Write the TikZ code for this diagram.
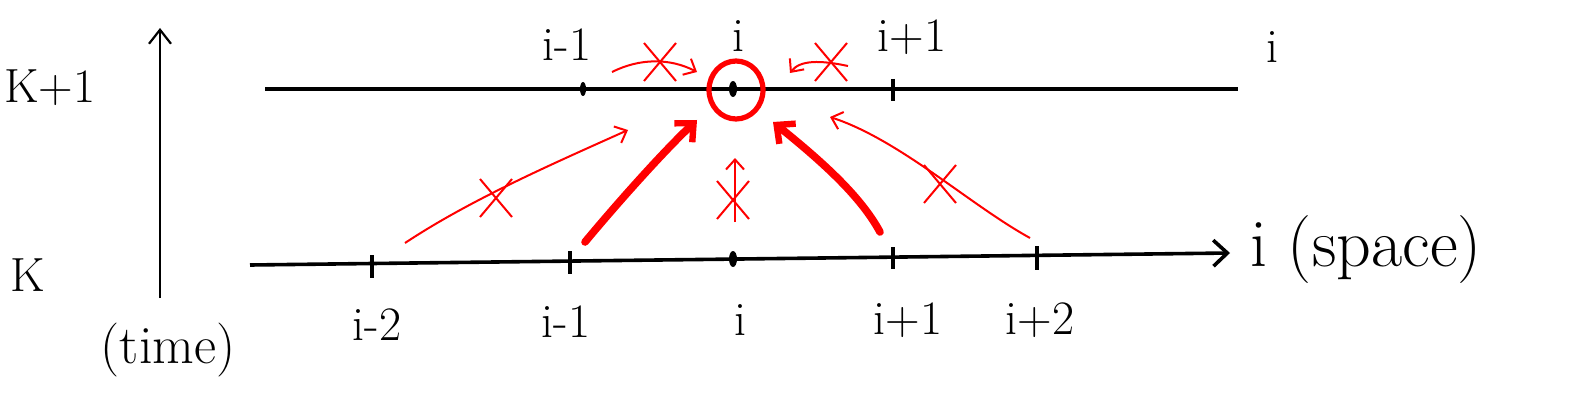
\documentclass[tikz,border=0pt]{standalone}
\usetikzlibrary{arrows.meta,shapes.misc,shapes.geometric}
\begin{document}
\begin{tikzpicture}[x=0.5pt,y=-0.5pt,
  axisline/.style={line width=1.8pt,black},
  tick/.style={line width=1.6pt,black},
  lbl/.style={font=\fontsize{24}{26}\selectfont,inner sep=0pt},
  thinred/.style={red,line width=1pt,-{Straight Barb[length=5pt,width=9pt]}},
  thickred/.style={red,line width=3.8pt,line cap=round,-{Straight Barb[length=7pt,width=13pt,line width=3.2pt]}},
  xmark/.style={cross out,draw=red,line width=1pt,minimum width=15pt,minimum height=18pt,inner sep=0pt},
  dotmark/.style={ellipse,fill=black,minimum width=4pt,minimum height=8pt,inner sep=0pt}
]
\useasboundingbox (0,0) rectangle (1583,401);

% time axis
\coordinate (tb) at (160,298);
\coordinate (tt) at (160,28);
\draw[line width=1.1pt,-{Straight Barb[length=7pt,width=11pt]}] (tb) -- (tt);
\node[lbl] (kp1) at (50,88) {K+1};
\node[lbl] (k) at (28,275) {K};
\node[lbl,font=\fontsize{27}{30}\selectfont] (time) at (168,350) {(time)};

% upper line (K+1)
\coordinate (ua) at (265,89);
\coordinate (ub) at (1238,89);
\draw[axisline] (ua) -- (ub);
\node[lbl] (ilab) at (1272,47) {i};

% lower line (K)
\coordinate (la) at (250,265);
\coordinate (lb) at (1230,253);
\draw[axisline,-{Straight Barb[length=7pt,width=13pt]}] (la) -- (lb);
\node[lbl,anchor=west,font=\fontsize{34}{36}\selectfont] (space) at (1250,250) {i (space)};

% upper points
\node[dotmark,minimum width=3pt,minimum height=7pt] (um1) at (583,89) {};
\node[dotmark] (u0) at (733,89) {};
\draw[tick] (893,79) -- (893,101);
\coordinate (up1) at (893,89);
\node[lbl] (tum1) at (567,45) {i-1};
\node[lbl] (tu0) at (738,36) {i};
\node[lbl] (tup1) at (912,37) {i+1};

% lower points
\draw[tick] (372,255) -- (372,278); \coordinate (lm2) at (372,265);
\draw[tick] (570,251) -- (570,274); \coordinate (lm1) at (570,263);
\node[dotmark] (l0) at (733,259) {};
\draw[tick] (893,247) -- (893,269); \coordinate (lp1) at (893,258);
\draw[tick] (1037,246) -- (1037,270); \coordinate (lp2) at (1037,256);
\node[lbl] (tlm2) at (377,325) {i-2};
\node[lbl] (tlm1) at (566,322) {i-1};
\node[lbl] (tl0) at (740,320) {i};
\node[lbl] (tlp1) at (908,320) {i+1};
\node[lbl] (tlp2) at (1040,320) {i+2};

% red circle
\node[ellipse,draw=red,line width=2.6pt,minimum width=27pt,minimum height=29pt,inner sep=0pt] (circ) at (736,90) {};

% thick arrows
\coordinate (a1s) at (585,242);
\coordinate (a1e) at (697,120);
\draw[thickred] (a1s) .. controls (620,200) and (665,150) .. (a1e);
\coordinate (a2s) at (880,232);
\coordinate (a2e) at (773,122);
\draw[thickred] (a2s) .. controls (860,195) and (820,160) .. (a2e);

% thin arrows
\coordinate (b1s) at (405,243);
\coordinate (b1e) at (628,130);
\draw[thinred] (b1s) .. controls (470,200) and (550,165) .. (b1e);
\node[xmark] (x1) at (496,198) {};
\coordinate (b2s) at (1030,238);
\coordinate (b2e) at (830,117);
\draw[thinred] (b2s) .. controls (970,205) and (900,140) .. (b2e);
\node[xmark] (x2) at (940,184) {};
\coordinate (b3s) at (735,222);
\coordinate (b3e) at (735,158);
\draw[thinred] (b3s) -- (b3e);
\node[xmark] (x3) at (733,200) {};
\coordinate (b4s) at (612,72);
\coordinate (b4e) at (697,72);
\draw[thinred] (b4s) .. controls (640,58) and (670,58) .. (b4e);
\node[xmark] (x4) at (660,62) {};
\coordinate (b5s) at (848,66);
\coordinate (b5e) at (790,73);
\draw[thinred] (b5s) .. controls (820,60) and (800,60) .. (b5e);
\node[xmark] (x5) at (831,62) {};
\end{tikzpicture}
\end{document}
